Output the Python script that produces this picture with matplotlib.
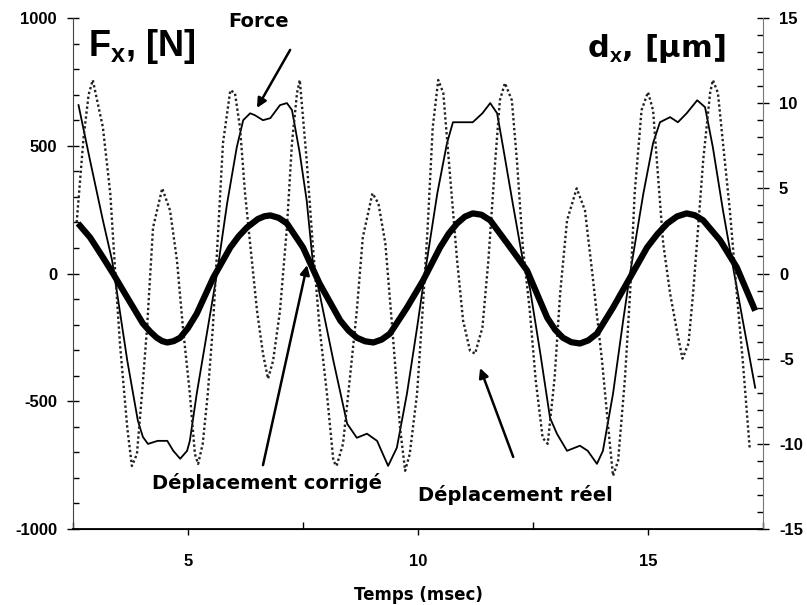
import numpy as np
import matplotlib
matplotlib.use('Agg')
import matplotlib.pyplot as plt

############################################################
# data
############################################################
# Force (N), thin solid line, left axis
force_t = [2.62, 2.87, 3.15, 3.35, 3.46, 3.68, 3.91, 4.02, 4.13, 4.34, 4.55, 4.68, 4.83, 4.98, 5.04,
           5.19, 5.41, 5.63, 5.85, 6.06, 6.20, 6.35, 6.45, 6.63, 6.79, 7.00, 7.15, 7.26, 7.43, 7.58,
           7.71, 7.86, 8.16, 8.46, 8.67, 8.89, 9.11, 9.35, 9.54, 9.76, 9.98, 10.15, 10.42, 10.63,
           10.76, 10.98, 11.19, 11.40, 11.57, 11.72, 11.85, 12.06, 12.28, 12.43, 12.66, 12.87, 13.02,
           13.24, 13.52, 13.69, 13.89, 14.02, 14.24, 14.46, 14.61, 14.90, 15.11, 15.26, 15.48, 15.65,
           15.84, 16.07, 16.24, 16.41, 16.63, 16.85, 17.06, 17.33]
force_n = [659, 443, 208, 51, -78, -341, -576, -640, -667, -655, -655, -694, -725, -694, -655,
           -470, -235, 0, 274, 494, 600, 627, 620, 600, 608, 659, 667, 640, 470, 286,
           51, -78, -341, -588, -643, -627, -655, -753, -682, -470, -212, 0, 314, 510,
           592, 592, 592, 627, 667, 627, 494, 274, 51, -55, -314, -565, -627,
           -694, -674, -694, -745, -694, -470, -184, 0, 314, 510, 592, 612, 592,
           627, 678, 651, 494, 247, 24, -184, -447]

# Deplacement reel (um), dotted line, right axis
reel_t = [2.58, 2.73, 2.84, 2.93, 3.15, 3.31, 3.42, 3.52, 3.68, 3.78, 3.89, 4.00, 4.11, 4.24, 4.44,
          4.61, 4.76, 4.89, 5.04, 5.15, 5.22, 5.32, 5.43, 5.54, 5.66, 5.76, 5.92, 6.02, 6.13, 6.24,
          6.35, 6.50, 6.63, 6.74, 6.85, 7.00, 7.15, 7.26, 7.37, 7.43, 7.58, 7.71, 7.86, 8.02, 8.16,
          8.23, 8.37, 8.52, 8.67, 8.80, 9.01, 9.14, 9.29, 9.44, 9.61, 9.72, 9.82, 9.98, 10.10, 10.21,
          10.32, 10.44, 10.55, 10.70, 10.85, 10.98, 11.13, 11.24, 11.40, 11.53, 11.68, 11.78, 11.89,
          12.04, 12.15, 12.28, 12.43, 12.56, 12.71, 12.82, 12.97, 13.09, 13.24, 13.45, 13.63, 13.80,
          14.00, 14.17, 14.24, 14.35, 14.50, 14.61, 14.71, 14.86, 15.00, 15.11, 15.22, 15.33, 15.48,
          15.64, 15.75, 15.88, 15.98, 16.09, 16.20, 16.35, 16.41, 16.52, 16.63, 16.78, 16.93, 17.06,
          17.21]
reel_um = [3.0, 8.0, 10.5, 11.36, 8.58, 4.71, 0.0, -4.11, -9.06, -11.3, -10.6, -7.05, -3.18, 2.7, 5.0,
           3.7, 0.77, -3.18, -7.05, -10.6, -11.18, -10.0, -7.05, -3.18, 2.7, 7.65, 10.76, 10.6, 8.58, 4.71,
           1.77, -2.18, -4.71, -6.18, -5.12, -2.18, 2.7, 7.65, 10.6, 11.36, 6.65, 1.77, -3.18, -7.05, -11.0,
           -11.3, -10.0, -6.12, -2.18, 2.12, 4.71, 4.11, 1.77, -3.18, -9.06, -11.58, -10.6, -7.05, -2.18, 2.7,
           8.58, 11.36, 10.6, 5.64, 0.77, -2.76, -4.53, -4.71, -3.18, 0.77, 6.65, 10.17, 11.18,
           10.17, 6.65, 1.53, -2.18, -6.3, -9.65, -10.0, -6.12, -1.17, 3.12, 5.0, 3.7, -0.24,
           -5.12, -10.0, -11.88, -11.0, -6.12, -1.17, 4.71, 9.59, 10.65, 9.59, 5.64, 1.77, -1.17,
           -3.53, -5.0, -4.11, -1.17, 2.7, 6.65, 10.6, 11.36, 10.6, 7.65, 3.7, -1.17, -5.12,
           -10.23]

# Deplacement corrige (um), thick line, right axis
corr_t = [2.61, 2.87, 3.15, 3.37, 3.68, 4.02, 4.18, 4.32, 4.44, 4.55, 4.69, 4.83, 5.00, 5.19, 5.55,
          5.92, 6.10, 6.28, 6.52, 6.66, 6.79, 6.97, 7.15, 7.50, 7.86, 8.31, 8.49, 8.67, 8.85, 9.03,
          9.21, 9.39, 9.76, 10.11, 10.48, 10.67, 10.85, 11.02, 11.19, 11.38, 11.57, 11.94,
          12.37, 12.81, 12.98, 13.15, 13.33, 13.52, 13.70, 13.89, 14.24, 14.61, 14.98, 15.20,
          15.42, 15.63, 15.84, 16.02, 16.20, 16.57, 16.93, 17.33]
corr_um = [2.94, 2.12, 0.95, 0.0, -1.41, -2.94, -3.42, -3.77, -3.97, -4.05, -3.97, -3.77, -3.2, -2.36, -0.24,
           1.53, 2.18, 2.70, 3.2, 3.36, 3.41, 3.27, 2.94, 1.53, -0.59, -2.76, -3.35, -3.77, -3.98, -4.05,
           -3.88, -3.53, -2.0, -0.41, 1.53, 2.35, 2.94, 3.34, 3.53, 3.45, 3.12, 1.77,
           0.18, -2.6, -3.3, -3.77, -4.03, -4.11, -3.93, -3.53, -2.0, -0.24, 1.53, 2.3,
           2.94, 3.35, 3.53, 3.42, 3.12, 1.94, 0.36, -2.18]

############################################################
# figure
############################################################
plt.rcParams['font.family'] = 'DejaVu Sans'
plt.rcParams['axes.unicode_minus'] = False
plt.rcParams['mathtext.fontset'] = 'custom'
plt.rcParams['mathtext.rm'] = 'Liberation Sans:bold'
plt.rcParams['mathtext.bf'] = 'Liberation Sans:bold'
plt.rcParams['mathtext.it'] = 'Liberation Sans:bold'

fig = plt.figure(figsize=(8.07, 6.05), dpi=100)
ax = fig.add_axes([73/807, 1-529/605, 690/807, 511/605])
ax2 = ax.twinx()

ax.plot(force_t, force_n, color='k', lw=1.3)
ax2.plot(reel_t, reel_um, color='#222222', lw=1.7, ls=(0, (1, 1.1)))
ax2.plot(corr_t, corr_um, color='k', lw=4.5, solid_capstyle='butt', solid_joinstyle='round')

ax.set_xlim(2.5, 17.5)
ax.set_ylim(-1000, 1000)
ax2.set_ylim(-15, 15)

ax.set_xticks([5, 10, 15])
ax.set_xticks([2.5, 7.5, 12.5, 17.5], minor=True)
ax.set_yticks(np.arange(-1000, 1001, 500))
ax.set_yticks(np.arange(-1000, 1001, 100), minor=True)
ax2.set_yticks(np.arange(-15, 16, 5))
ax2.set_yticks(np.arange(-15, 16, 1), minor=True)

tick_font = dict(family='Liberation Sans', weight='bold', size=12)
for lab in ax.get_xticklabels() + ax.get_yticklabels() + ax2.get_yticklabels():
    lab.set_fontproperties(tick_font)

ax.tick_params(axis='y', which='major', direction='inout', length=9, width=1, pad=7)
ax.tick_params(axis='y', which='minor', direction='in', length=4, width=1)
ax.tick_params(axis='x', which='major', direction='out', length=4, width=1, pad=14)
ax.tick_params(axis='x', which='minor', direction='in', length=5, width=1)
ax2.tick_params(axis='y', which='major', direction='inout', length=9, width=1, pad=7)
ax2.tick_params(axis='y', which='minor', direction='in', length=4, width=1)

for a in (ax, ax2):
    a.spines['top'].set_visible(False)
ax2.spines['left'].set_visible(False)
ax.spines['right'].set_visible(False)
ax.spines['left'].set_color('#444444')
ax2.spines['right'].set_color('#777777')
ax.spines['bottom'].set_linewidth(1.3)

ax.set_xlabel('Temps (msec)', fontsize=12, fontweight='bold')
ax.xaxis.set_label_coords(0.5, -0.112)
ax.xaxis.label.set_va('top')

# axis titles inside the plot
ax.text(2.83, 965, r'$\mathbf{F_x}$, [N]', fontsize=26, fontweight='bold',
        family='Liberation Sans', va='top', ha='left')
ax.text(13.67, 945, r'd$_\mathbf{x}$, [µm]', fontsize=22, fontweight='bold', va='top', ha='left')

# labels with arrows
arrow = dict(arrowstyle='-|>', color='k', lw=1.8, mutation_scale=14, shrinkA=0, shrinkB=0)
ax.text(6.54, 988, 'Force', fontsize=14, fontweight='bold', ha='center', va='center')
ax.annotate('', xy=(6.5, 648), xytext=(7.22, 875), arrowprops=arrow)
ax.text(4.22, -820, 'Déplacement corrigé', fontsize=14, fontweight='bold', ha='left', va='center')
ax.annotate('', xy=(7.59, 33), xytext=(6.63, -750), arrowprops=arrow)
ax.text(10.0, -867, 'Déplacement réel', fontsize=14, fontweight='bold', ha='left', va='center')
ax.annotate('', xy=(11.35, -370), xytext=(12.07, -718), arrowprops=arrow)

plt.savefig('out.png', dpi=100)
